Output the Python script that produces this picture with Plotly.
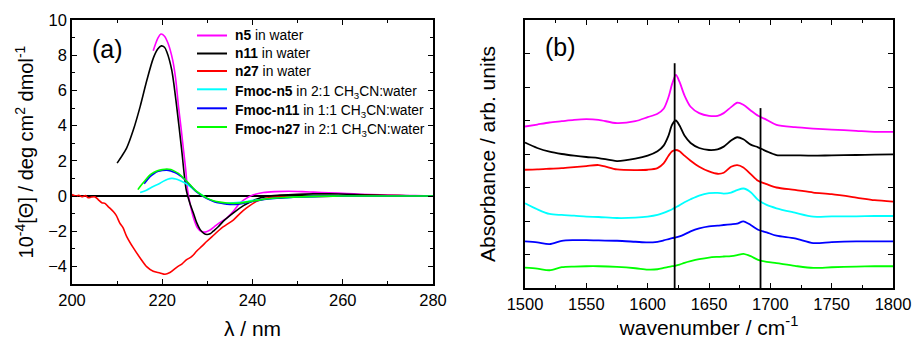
import plotly.graph_objects as go

# ---------------- Panel (a): CD spectra ----------------
n5_x = [218.0, 219.0, 219.7, 220.5, 221.3, 222.3, 223.0, 223.6, 224.2, 224.7, 225.2, 225.6, 226.3, 227.0, 227.8, 228.6, 229.5, 230.5, 231.5, 232.5, 234.3, 235.8, 237.2, 238.7, 240.2, 242.4, 245.0, 248.0, 251.0, 253.5, 257.0, 260.9, 264.0, 268.3, 272.0, 276.0, 280.0]
n5_y = [8.25, 8.95, 9.2, 9.08, 8.66, 7.73, 6.6, 5.08, 3.8, 2.63, 1.5, 0.36, -0.6, -1.3, -1.8, -2.0, -2.05, -1.95, -1.75, -1.55, -1.25, -0.85, -0.4, -0.12, 0.07, 0.2, 0.25, 0.27, 0.25, 0.22, 0.18, 0.14, 0.1, 0.07, 0.04, 0.02, 0.0]

n11_x = [210.0, 211.0, 212.1, 213.6, 215.1, 216.6, 218.0, 219.0, 219.8, 220.5, 221.0, 222.1, 223.2, 224.3, 225.3, 226.1, 226.9, 227.6, 228.4, 229.2, 229.9, 230.6, 231.3, 232.4, 233.5, 235.7, 238.0, 240.2, 243.2, 246.1, 250.0, 253.5, 257.0, 260.9, 265.0, 270.0, 275.0, 280.0]
n11_y = [1.87, 2.25, 2.72, 3.76, 5.08, 6.59, 7.82, 8.35, 8.53, 8.45, 8.2, 7.16, 5.08, 2.63, 0.36, -0.4, -0.97, -1.5, -1.91, -2.12, -2.19, -2.15, -2.0, -1.75, -1.44, -0.97, -0.55, -0.25, -0.02, 0.05, 0.1, 0.12, 0.12, 0.1, 0.07, 0.03, 0.01, 0.0]

n27_x = [200.0, 200.8, 201.5, 202.2, 203.0, 203.6, 204.3, 205.1, 205.8, 206.6, 207.3, 208.0, 208.4, 209.2, 209.8, 210.6, 211.3, 212.1, 213.6, 215.1, 216.6, 218.0, 219.5, 220.6, 221.7, 223.2, 224.4, 225.4, 226.5, 227.6, 228.8, 229.9, 231.5, 233.0, 235.8, 237.2, 238.7, 240.9, 243.2, 246.0, 250.0, 255.0, 260.0, 265.0, 268.0, 272.0, 276.0, 280.0]
n27_y = [0.08, 0.0, 0.04, -0.04, 0.02, -0.1, -0.06, -0.05, -0.2, -0.38, -0.42, -0.6, -0.69, -0.9, -1.1, -1.54, -1.8, -2.29, -2.95, -3.52, -4.03, -4.28, -4.37, -4.45, -4.35, -4.05, -3.85, -3.62, -3.45, -3.14, -2.85, -2.57, -2.2, -1.85, -1.35, -1.0, -0.68, -0.3, -0.12, -0.06, -0.04, -0.02, 0.0, 0.02, 0.03, 0.02, 0.01, 0.0]

fn5_x = [215.1, 216.5, 218.0, 219.2, 220.2, 221.2, 222.1, 223.0, 223.9, 225.4, 226.5, 227.6, 228.8, 229.9, 232.1, 234.3, 237.2, 240.2, 243.0, 246.1, 250.0, 253.5, 258.0, 265.0, 272.0, 280.0]
fn5_y = [0.2, 0.33, 0.54, 0.68, 0.83, 0.95, 1.0, 0.97, 0.88, 0.68, 0.47, 0.26, 0.06, -0.12, -0.35, -0.4, -0.36, -0.25, -0.17, -0.12, -0.06, -0.02, 0.0, 0.0, 0.0, 0.0]

fn11_x = [216.0, 217.3, 218.2, 219.1, 220.0, 221.0, 221.9, 222.8, 223.6, 224.3, 225.8, 227.6, 229.9, 231.5, 232.8, 234.3, 235.7, 237.2, 240.2, 243.0, 246.1, 250.0, 255.0, 260.0, 270.0, 280.0]
fn11_y = [0.7, 1.1, 1.28, 1.4, 1.45, 1.47, 1.42, 1.33, 1.22, 1.1, 0.72, 0.24, -0.15, -0.32, -0.4, -0.46, -0.48, -0.45, -0.3, -0.18, -0.12, -0.06, -0.02, 0.0, 0.0, 0.0]

fn27_x = [214.6, 215.1, 216.2, 217.3, 218.2, 219.1, 220.0, 221.0, 221.9, 222.8, 223.6, 224.3, 225.8, 227.6, 229.9, 231.5, 232.8, 234.3, 235.7, 237.2, 240.2, 243.0, 246.1, 250.0, 255.0, 260.0, 270.0, 280.0]
fn27_y = [0.36, 0.54, 0.88, 1.2, 1.35, 1.45, 1.5, 1.53, 1.5, 1.4, 1.28, 1.12, 0.74, 0.26, -0.12, -0.28, -0.35, -0.4, -0.42, -0.4, -0.28, -0.17, -0.1, -0.05, -0.02, 0.0, 0.0, 0.0]

# ---------------- Panel (b): IR spectra (offset, arb. units) ----------------
ir_x = [1500, 1510, 1520, 1530, 1540, 1550, 1560, 1575, 1590, 1600, 1608, 1613, 1617, 1620, 1623, 1626, 1630, 1635, 1642, 1650, 1657, 1662, 1668, 1673, 1678, 1684, 1690, 1697, 1705, 1720, 1735, 1750, 1770, 1785, 1800]

ir_n5 = [4.82, 4.88, 4.94, 4.98, 5.02, 5.04, 5.02, 4.92, 4.98, 5.1, 5.2, 5.35, 5.7, 6.1, 6.36, 6.15, 5.75, 5.41, 5.22, 5.14, 5.14, 5.22, 5.4, 5.53, 5.47, 5.3, 5.14, 5.02, 4.87, 4.8, 4.76, 4.73, 4.69, 4.66, 4.66]
ir_n11 = [4.34, 4.18, 4.07, 4.0, 3.95, 3.91, 3.88, 3.79, 3.86, 3.95, 4.08, 4.25, 4.55, 4.88, 5.0, 4.85, 4.55, 4.33, 4.18, 4.12, 4.14, 4.22, 4.4, 4.5, 4.44, 4.28, 4.2, 4.08, 3.97, 3.96, 3.95, 3.96, 3.97, 3.98, 3.99]
ir_n27 = [3.53, 3.54, 3.56, 3.58, 3.61, 3.64, 3.67, 3.54, 3.52, 3.53, 3.58, 3.72, 3.95, 4.08, 4.12, 4.08, 3.95, 3.8, 3.62, 3.48, 3.41, 3.44, 3.62, 3.67, 3.6, 3.4, 3.2, 3.1, 3.0, 2.93, 2.85, 2.8, 2.7, 2.62, 2.58]
ir_fn5 = [2.53, 2.35, 2.21, 2.18, 2.16, 2.13, 2.12, 2.09, 2.1, 2.13, 2.18, 2.24, 2.3, 2.35, 2.41, 2.47, 2.56, 2.65, 2.76, 2.83, 2.84, 2.82, 2.85, 2.92, 2.97, 2.86, 2.63, 2.48, 2.38, 2.25, 2.13, 2.14, 2.14, 2.15, 2.15]
ir_fn11 = [1.39, 1.36, 1.31, 1.41, 1.43, 1.43, 1.42, 1.41, 1.38, 1.36, 1.38, 1.42, 1.46, 1.49, 1.51, 1.54, 1.6, 1.69, 1.78, 1.84, 1.86, 1.88, 1.9, 1.92, 1.99, 1.88, 1.74, 1.66, 1.56, 1.48, 1.34, 1.37, 1.39, 1.39, 1.39]
ir_fn27 = [0.61, 0.58, 0.53, 0.62, 0.64, 0.65, 0.65, 0.63, 0.59, 0.55, 0.56, 0.6, 0.63, 0.65, 0.67, 0.7, 0.75, 0.8, 0.86, 0.91, 0.93, 0.94, 0.95, 0.98, 1.02, 0.95, 0.84, 0.78, 0.74, 0.66, 0.6, 0.62, 0.64, 0.65, 0.65]

marker_x1 = [1622, 1622]
marker_y1 = [0, 6.71]
marker_x2 = [1692, 1692]
marker_y2 = [0, 5.37]

legend_names = [
    "<b>n5</b> in water",
    "<b>n11</b> in water",
    "<b>n27</b> in water",
    "<b>Fmoc-n5</b> in 2:1 CH<sub>3</sub>CN:water",
    "<b>Fmoc-n11</b> in 1:1 CH<sub>3</sub>CN:water",
    "<b>Fmoc-n27</b> in 2:1 CH<sub>3</sub>CN:water",
]
colors = ["#FF00FF", "#000000", "#FF0000", "#00FFFF", "#0000FF", "#00FF00"]

FONT = "Arial, Liberation Sans, sans-serif"
W, H = 912, 340

fig = go.Figure()

cd_sets = [(n5_x, n5_y), (n11_x, n11_y), (n27_x, n27_y),
           (fn5_x, fn5_y), (fn11_x, fn11_y), (fn27_x, fn27_y)]
for i in range(6):
    x, y = cd_sets[i]
    fig.add_trace(go.Scatter(
        x=x, y=y, mode="lines", name=legend_names[i],
        line=dict(color=colors[i], width=1.6, shape="spline", smoothing=0.8),
        xaxis="x", yaxis="y", showlegend=False))

ir_sets = [ir_n5, ir_n11, ir_n27, ir_fn5, ir_fn11, ir_fn27]
for i in range(6):
    fig.add_trace(go.Scatter(
        x=ir_x, y=ir_sets[i], mode="lines",
        line=dict(color=colors[i], width=1.8, shape="spline", smoothing=0.8),
        xaxis="x2", yaxis="y2", showlegend=False))

for mx, my in [(marker_x1, marker_y1), (marker_x2, marker_y2)]:
    fig.add_trace(go.Scatter(x=mx, y=my, mode="lines",
                             line=dict(color="black", width=1.8),
                             xaxis="x2", yaxis="y2", showlegend=False))

def px_dom(a, b, total):
    return [a / total, b / total]

ax_common = dict(showline=True, linecolor="black", linewidth=1.5, mirror="ticks",
                 ticks="inside", ticklen=5, tickwidth=1.2, tickcolor="black",
                 showgrid=False, automargin=False,
                 tickfont=dict(family=FONT, size=16.5, color="black"))

fig.update_layout(
    width=W, height=H,
    margin=dict(l=0, r=0, t=0, b=0),
    paper_bgcolor="white", plot_bgcolor="white",
    font=dict(family=FONT, color="black"),
    showlegend=False,
    xaxis=dict(domain=px_dom(72, 433, W), range=[200, 280], dtick=20, anchor="y",
               zeroline=False,
               minor=dict(ticks="inside", dtick=10, ticklen=3, tickcolor="black"),
               title=dict(text="λ / nm", font=dict(size=21, family=FONT), standoff=14),
               **ax_common),
    yaxis=dict(domain=[1 - 284 / H, 1 - 20 / H], range=[-5, 10], dtick=2, anchor="x",
               zeroline=True, zerolinecolor="black", zerolinewidth=1.5,
               minor=dict(ticks="inside", dtick=1, ticklen=3, tickcolor="black"),
               title=dict(text="10<sup>-4</sup>[Θ] / deg cm<sup>2</sup> dmol<sup>-1</sup>",
                          font=dict(size=20, family=FONT), standoff=9),
               **ax_common),
    xaxis2=dict(domain=px_dom(525, 893, W), range=[1500, 1800], dtick=50, anchor="y2",
                zeroline=False,
                minor=dict(ticks="inside", dtick=25, ticklen=3, tickcolor="black"),
                title=dict(text="wavenumber / cm<sup>-1</sup>", font=dict(size=21, family=FONT), standoff=9),
                **ax_common),
    yaxis2=dict(domain=[1 - 288 / H, 1 - 20 / H], range=[0, 8], dtick=1, anchor="x2",
                zeroline=False, showticklabels=False,
                title=dict(text="Absorbance / arb. units", font=dict(size=21, family=FONT), standoff=22),
                **ax_common),
)

# manual legend for panel (a)
legend_rows = [35.5, 53.5, 71, 89.3, 108.3, 127]
for i in range(6):
    yy = 1 - legend_rows[i] / H
    fig.add_shape(type="line", xref="paper", yref="paper",
                  x0=197 / W, x1=227 / W, y0=yy, y1=yy,
                  line=dict(color=colors[i], width=2))
    fig.add_annotation(text=legend_names[i], xref="paper", yref="paper",
                       x=233 / W, y=yy, xanchor="left", yanchor="middle",
                       yshift=-3 if "sub" in legend_names[i] else 0,
                       showarrow=False, align="left",
                       font=dict(size=13.8, family=FONT, color="black"))

fig.add_annotation(text="(a)", xref="paper", yref="paper", x=107 / W, y=1 - 49 / H,
                   xanchor="center", yanchor="middle",
                   showarrow=False, font=dict(size=25, family=FONT, color="black"))
fig.add_annotation(text="(b)", xref="paper", yref="paper", x=560 / W, y=1 - 47 / H,
                   xanchor="center", yanchor="middle",
                   showarrow=False, font=dict(size=25, family=FONT, color="black"))

fig.write_html("out.html", config={"displayModeBar": False},
               post_script="document.body.style.margin='0px';")
